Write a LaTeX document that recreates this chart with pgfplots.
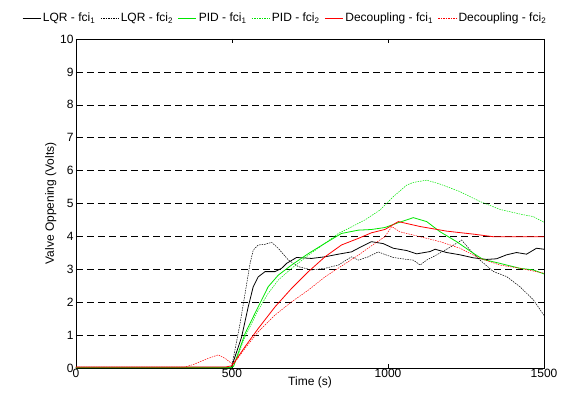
\documentclass[border=0pt]{standalone}
\usepackage{pgfplots}
\pgfplotsset{compat=1.18}
\usepackage{fontspec}
\setmainfont{Liberation Sans}
\definecolor{pgreen}{RGB}{0,230,0}
\definecolor{pred}{RGB}{255,0,0}
\begin{document}
\begin{tikzpicture}[x=1pt,y=1pt]
\begin{axis}[
  scale only axis,
  width=468pt, height=329pt,
  xmin=0, xmax=1500, ymin=0, ymax=10,
  xtick={0,500,1000,1500},
  ytick={0,1,...,10},
  tick align=inside,
  major tick length=4pt,
  tick style={black, line width=0.5pt},
  axis line style={black, line width=0.8pt},
  ymajorgrids,
  major grid style={black, line width=0.55pt, dash pattern=on 7pt off 4pt},
  /pgf/number format/assume math mode=true,
  /pgf/number format/1000 sep={},
  tick label style={font=\fontsize{12}{14}\selectfont},
  label style={font=\fontsize{12}{14}\selectfont},
  xlabel={Time (s)},
  ylabel={Valve Oppening (Volts)},
  xlabel style={yshift=8pt},
  ylabel style={yshift=-3pt},
  xticklabel style={yshift=2pt},
  yticklabel style={xshift=1pt},
  legend columns=6,
  legend style={at={(0.447,1.064)}, anchor=center, draw=none, fill=none,
    font=\fontsize{12}{14}\selectfont, inner sep=0pt,
    /tikz/every even column/.append style={column sep=3pt}},
  legend image code/.code={\draw[#1] (0pt,0pt) -- (18pt,0pt);},
]
\addplot[black, line width=0.8pt] coordinates {
(0,0.02)(495,0.02)(499,0.04)(531,0.95)(552,1.86)(568,2.47)(584,2.77)(606,2.93)(638,2.93)(659,3.03)(675,3.18)(707,3.36)(755,3.33)(798,3.38)(841,3.46)(883,3.53)(915,3.69)(947,3.84)(960,3.82)(985,3.78)(1017,3.64)(1060,3.57)(1092,3.47)(1135,3.54)(1151,3.61)(1188,3.51)(1231,3.44)(1273,3.35)(1316,3.30)(1348,3.32)(1380,3.44)(1412,3.51)(1444,3.46)(1476,3.64)(1500,3.61)};
\addlegendentry{LQR - fci\textsubscript{1}}
\addplot[black, line width=0.5pt, dash pattern=on 1.5pt off 1pt] coordinates {
(0,0.02)(495,0.02)(499,0.04)(526,1.36)(542,2.27)(558,3.18)(568,3.58)(584,3.74)(606,3.76)(627,3.82)(648,3.64)(681,3.28)(713,3.08)(755,2.98)(798,3.03)(841,3.13)(883,3.38)(905,3.28)(937,3.38)(969,3.53)(990,3.45)(1017,3.36)(1060,3.30)(1081,3.28)(1103,3.13)(1124,3.28)(1156,3.44)(1199,3.67)(1236,3.89)(1263,3.59)(1295,3.28)(1338,2.93)(1380,2.78)(1423,2.47)(1466,2.07)(1500,1.60)};
\addlegendentry{LQR - fci\textsubscript{2}}
\addplot[pgreen, line width=0.8pt] coordinates {
(0,0.01)(495,0.01)(505,0.05)(542,1.05)(584,1.86)(616,2.47)(648,2.82)(691,3.13)(745,3.48)(798,3.79)(851,4.09)(905,4.19)(947,4.21)(990,4.27)(1028,4.40)(1081,4.57)(1124,4.45)(1167,4.14)(1220,3.84)(1273,3.49)(1305,3.30)(1359,3.18)(1423,3.03)(1466,2.98)(1500,2.86)};
\addlegendentry{PID - fci\textsubscript{1}}
\addplot[pgreen, line width=0.5pt, dash pattern=on 1.5pt off 1pt] coordinates {
(0,0.01)(495,0.01)(505,0.05)(542,0.95)(584,1.76)(616,2.27)(648,2.67)(691,3.03)(745,3.43)(798,3.79)(841,4.09)(883,4.29)(926,4.50)(974,4.80)(1017,5.21)(1060,5.56)(1081,5.64)(1124,5.71)(1167,5.59)(1231,5.36)(1295,5.06)(1359,4.82)(1423,4.68)(1466,4.60)(1500,4.43)};
\addlegendentry{PID - fci\textsubscript{2}}
\addplot[pred, line width=0.8pt] coordinates {
(0,0.03)(480,0.03)(500,0.07)(542,0.65)(584,1.2)(638,1.86)(691,2.42)(745,2.93)(798,3.38)(851,3.74)(905,3.94)(947,4.11)(990,4.21)(1033,4.45)(1103,4.30)(1188,4.16)(1273,4.07)(1338,3.99)(1500,3.99)};
\addlegendentry{Decoupling - fci\textsubscript{1}}
\addplot[pred, line width=0.5pt, dash pattern=on 1.5pt off 1pt] coordinates {
(0,0.03)(350,0.03)(380,0.12)(420,0.28)(456,0.40)(480,0.28)(497,0.15)(505,0.12)(542,0.6)(584,1.1)(638,1.61)(691,2.01)(745,2.37)(798,2.77)(851,3.10)(905,3.43)(958,3.79)(990,3.99)(1012,4.30)(1038,4.14)(1103,3.99)(1167,3.84)(1231,3.64)(1295,3.33)(1359,3.13)(1423,3.03)(1500,2.88)};
\addlegendentry{Decoupling - fci\textsubscript{2}}
\end{axis}
\pgfresetboundingbox
\path (-76pt,-29pt) rectangle (488pt,368pt);
\end{tikzpicture}
\end{document}
